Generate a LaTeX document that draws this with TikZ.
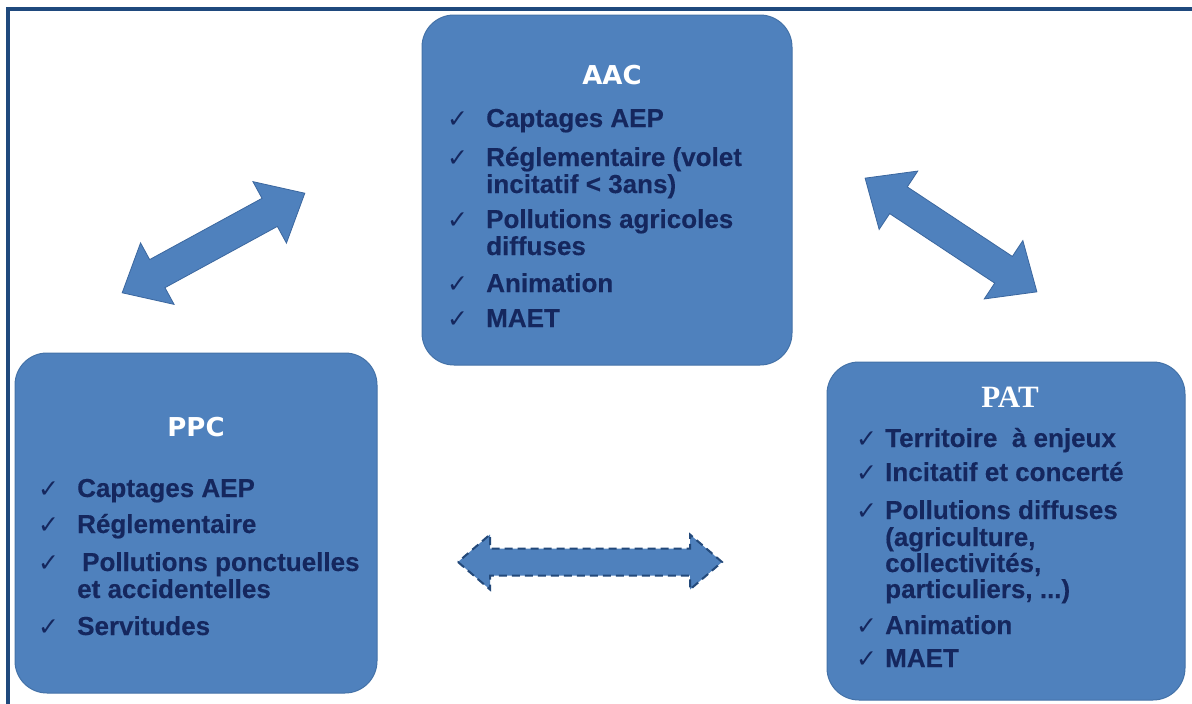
\documentclass[tikz,border=0pt]{standalone}
\usepackage{fontspec}
\setmainfont{Liberation Sans}
\newfontfamily\itemfont[FakeBold=0.3]{Liberation Sans Bold}
\newfontfamily\ttlfont{DejaVu Sans}
\newfontfamily\serfont{Liberation Serif}
\newfontfamily\symfont{DejaVu Sans}
\definecolor{boxblue}{HTML}{4F81BD}
\definecolor{boxedge}{HTML}{4472A8}
\definecolor{navy}{HTML}{15275E}
\definecolor{framec}{HTML}{1F497D}
\definecolor{arredge}{HTML}{3B679F}
\definecolor{dashedge}{HTML}{23497A}
\tikzset{
 box/.style={draw=boxedge, line width=1pt, fill=boxblue, rounded corners=32pt, inner sep=0pt},
 ttl/.style={text=white, font=\ttlfont\bfseries\fontsize{26}{26}\selectfont, inner sep=0pt},
 patttl/.style={text=white, font=\serfont\bfseries\fontsize{31}{31}\selectfont, inner sep=0pt},
 item/.style={text=navy, font=\itemfont\fontsize{26}{27}\selectfont, anchor=base west, inner sep=0pt},
 ck/.style={text=navy, font=\symfont\fontsize{25}{25}\selectfont, anchor=base west, inner sep=0pt},
 arr/.style={fill=boxblue, draw=arredge, line width=0.8pt, line join=miter},
 dasharr/.style={fill=boxblue, draw=dashedge, line width=2pt, dash pattern=on 8pt off 5pt},
 frame/.style={draw=framec, line width=4pt},
 pics/dblarrow/.style args={#1/#2/#3/#4}{code={
   \path[pic actions] (-#1,0) -- (-#1+#4,#3) -- (-#1+#4,#2) -- (#1-#4,#2) -- (#1-#4,#3)
     -- (#1,0) -- (#1-#4,-#3) -- (#1-#4,-#2) -- (-#1+#4,-#2) -- (-#1+#4,-#3) -- cycle;}}
}
\begin{document}
\begin{tikzpicture}[x=1pt,y=-1pt]
\useasboundingbox (0,0) rectangle (1192,704);
\fill[white] (0,0) rectangle (1192,704);
\draw[frame] (8,712) -- (8,8.7) -- (1200,8.7);

% boxes
\node[box, minimum width=370pt, minimum height=350pt] (aac) at (607,190) {};
\node[box, minimum width=362pt, minimum height=340pt] (ppc) at (196,523) {};
\node[box, minimum width=358pt, minimum height=338pt] (pat) at (1006,531) {};

% arrows
\pic[arr, rotate=28.6] (arrL) at (213.5,243) {dblarrow=104/16/35/40};
\pic[arr, rotate=-33.5] (arrR) at (951,235) {dblarrow=103/16/35/40};
\pic[dasharr] (arrH) at (590,562) {dblarrow=132/13.5/27.5/32};

% AAC
\node[ttl] (aact) at (612,75) {AAC};
\node[ck] (aacc1) at (447,127) {✓}; \node[item] (aac1) at (486,127) {Captages AEP};
\node[ck] (aacc2) at (447,166) {✓}; \node[item] (aac2) at (486,166) {Réglementaire (volet};
\node[item] (aac2b) at (486,193) {incitatif < 3ans)};
\node[ck] (aacc3) at (447,228) {✓}; \node[item] (aac3) at (486,228) {Pollutions agricoles};
\node[item] (aac3b) at (486,255) {diffuses};
\node[ck] (aacc4) at (447,292) {✓}; \node[item] (aac4) at (486,292) {Animation};
\node[ck] (aacc5) at (447,327) {✓}; \node[item] (aac5) at (486,327) {MAET};

% PPC
\node[ttl] (ppct) at (196,427) {PPC};
\node[ck] (ppcc1) at (38,497) {✓}; \node[item] (ppc1) at (77,497) {Captages AEP};
\node[ck] (ppcc2) at (38,533) {✓}; \node[item] (ppc2) at (77,533) {Réglementaire};
\node[ck] (ppcc3) at (38,571) {✓}; \node[item] (ppc3) at (82,571) {Pollutions ponctuelles};
\node[item] (ppc3b) at (77,598) {et accidentelles};
\node[ck] (ppcc4) at (38,635) {✓}; \node[item] (ppc4) at (77,635) {Servitudes};

% PAT
\node[patttl] (patt) at (1010,397) {PAT};
\node[ck] (patc1) at (856,447) {✓}; \node[item] (pat1) at (885,447) {Territoire~ à enjeux};
\node[ck] (patc2) at (856,481) {✓}; \node[item] (pat2) at (885,481) {Incitatif et concerté};
\node[ck] (patc3) at (856,519) {✓}; \node[item] (pat3) at (885,519) {Pollutions diffuses};
\node[item] (pat3b) at (885,546) {(agriculture,};
\node[item] (pat3c) at (885,572) {collectivités,};
\node[item] (pat3d) at (885,598) {particuliers, ...)};
\node[ck] (patc4) at (856,634) {✓}; \node[item] (pat4) at (885,634) {Animation};
\node[ck] (patc5) at (856,667) {✓}; \node[item] (pat5) at (885,667) {MAET};
\end{tikzpicture}
\end{document}
